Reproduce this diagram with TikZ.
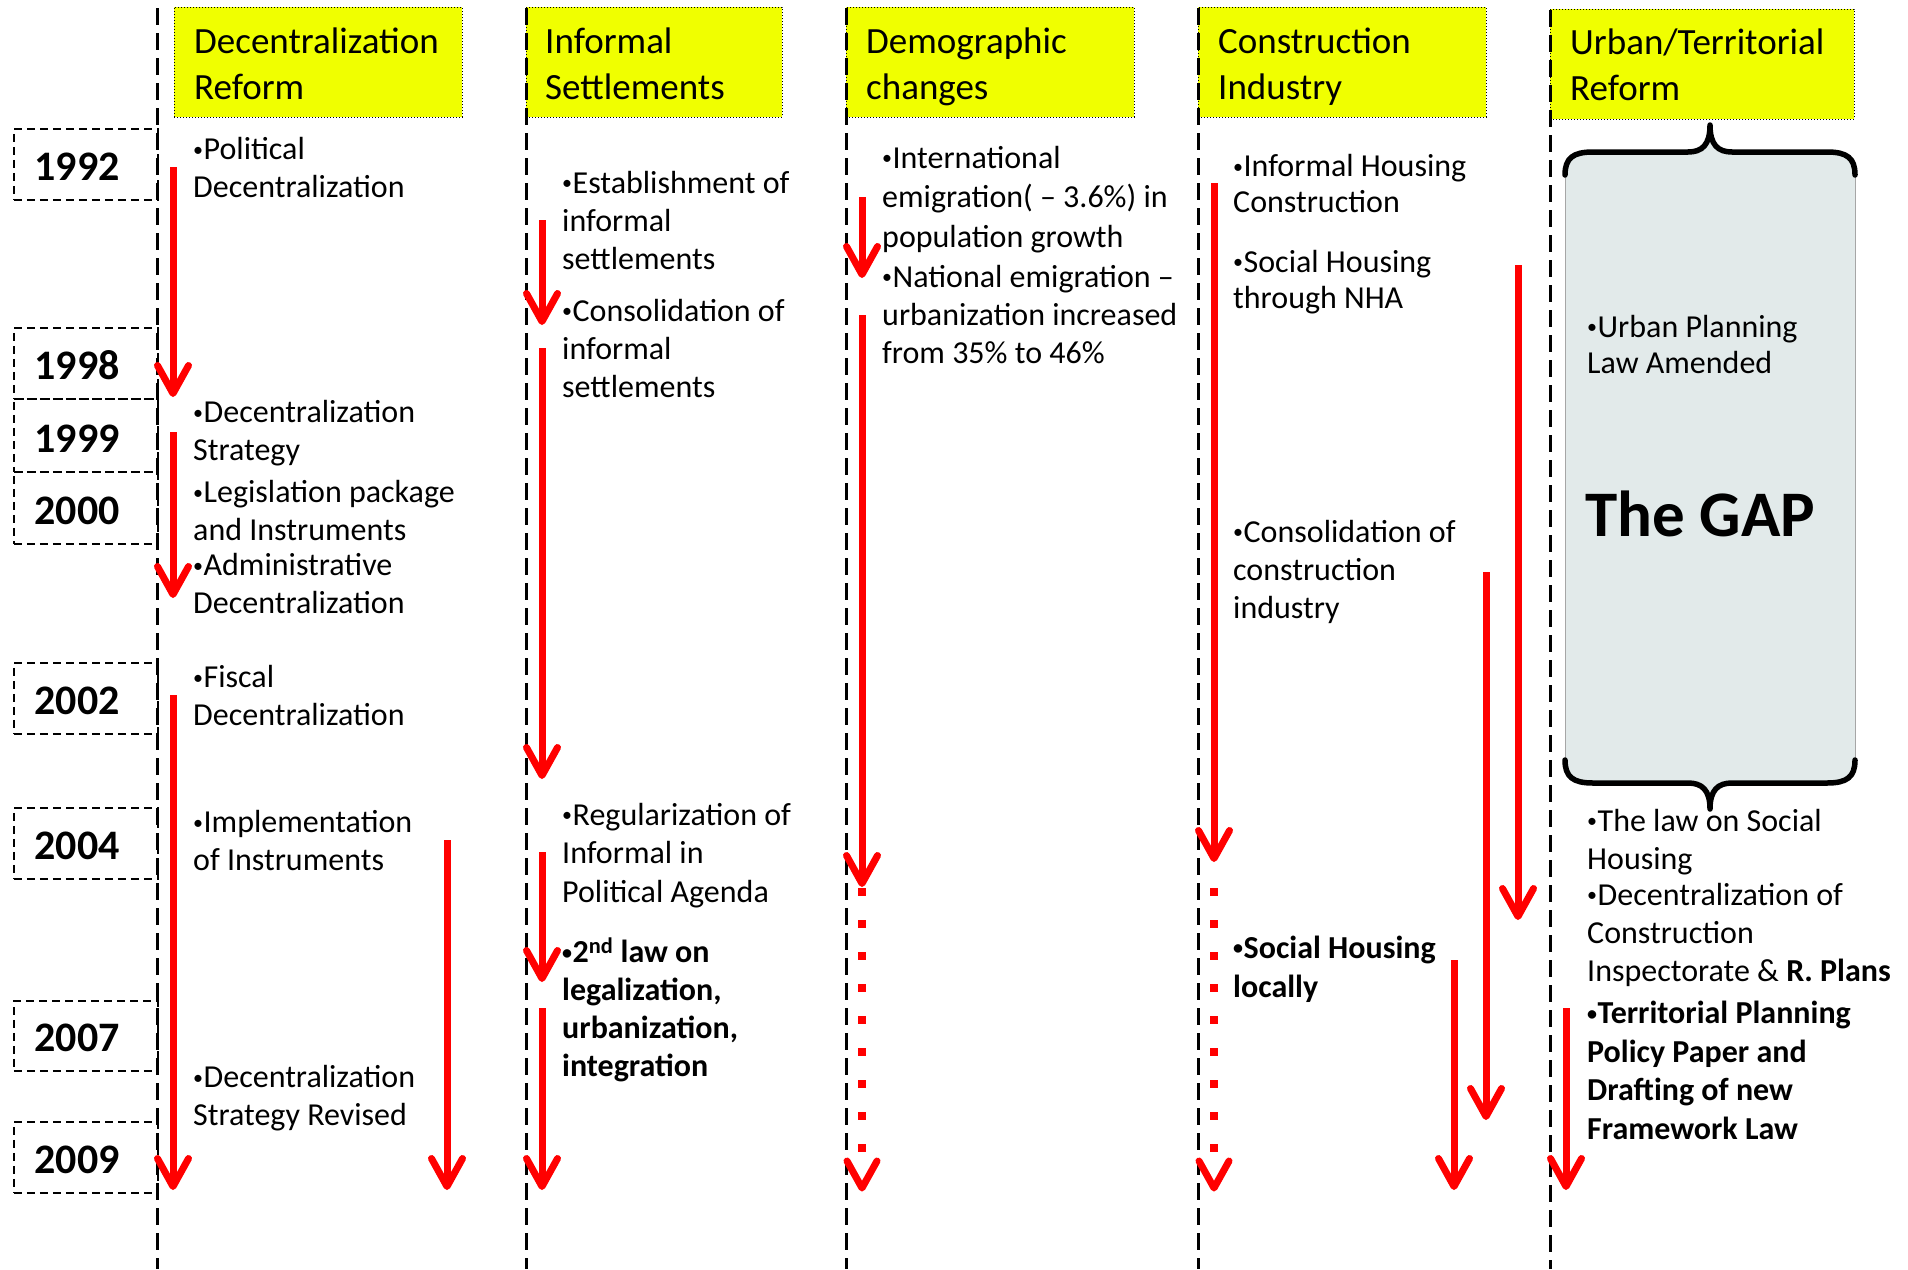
\documentclass[tikz,border=0pt]{standalone}
\usepackage{fontspec}
\setmainfont{Carlito}
\usetikzlibrary{arrows.meta}
\definecolor{hdryellow}{HTML}{F0FF00}
\definecolor{gapgray}{HTML}{E2EAEA}
\definecolor{arrred}{HTML}{FF0000}
\newcommand{\bul}{\raisebox{3.5pt}{\fontsize{20}{20}\selectfont •}\hspace{0.5pt}}
\tikzset{
  colline/.style={line width=3pt, dash pattern=on 17pt off 8pt, black},
  hdrbox/.style={fill=hdryellow, draw=black, line width=0.9pt, dash pattern=on 1pt off 2pt, inner sep=0pt},
  hdrtext/.style={anchor=base west, align=left, inner sep=0pt, font=\fontsize{37}{46}\selectfont},
  bodytext/.style={anchor=base west, align=left, inner sep=0pt, font=\fontsize{32}{37.5}\selectfont},
  yearbox/.style={draw=black, line width=1.6pt, dash pattern=on 8pt off 5pt, minimum width=144pt, minimum height=71pt, inner sep=0pt},
  yeartext/.style={anchor=base, inner sep=0pt, font=\fontsize{42}{42}\selectfont\bfseries},
  redarrow/.style={draw=arrred, line width=7pt, -{Straight Barb[length=28pt,width=31pt,round]}},
  reddots/.style={draw=arrred, line width=8pt, dash pattern=on 8pt off 24pt},
  chevron/.style={draw=arrred, line width=7pt, line cap=round, line join=round},
  brace/.style={draw=black, line width=5.5pt, line cap=round, line join=round},
}
\begin{document}
\begin{tikzpicture}[x=1pt, y=-1pt]
\useasboundingbox (0,0) rectangle (1908,1269);
\fill[white] (0,0) rectangle (1908,1269);

% gap box
\fill[gapgray] (1565,175) .. controls (1565,158) and (1573,152) .. (1593,152) -- (1688,152)
  .. controls (1702,152) and (1710,145) .. (1710,125)
  .. controls (1710,145) and (1718,152) .. (1732,152) -- (1827,152)
  .. controls (1847,152) and (1855,158) .. (1855,175) -- (1855,760)
  .. controls (1855,777) and (1847,783) .. (1827,783) -- (1732,783)
  .. controls (1718,783) and (1710,790) .. (1710,809)
  .. controls (1710,790) and (1702,783) .. (1688,783) -- (1593,783)
  .. controls (1573,783) and (1565,777) .. (1565,760) -- cycle;
\draw[gray!70, line width=1pt] (1565,175) -- (1565,760);
\draw[gray!70, line width=1pt] (1855,175) -- (1855,760);
\draw[brace] (1565,175) .. controls (1565,158) and (1573,152) .. (1593,152) -- (1688,152)
  .. controls (1702,152) and (1710,145) .. (1710,125)
  .. controls (1710,145) and (1718,152) .. (1732,152) -- (1827,152)
  .. controls (1847,152) and (1855,158) .. (1855,175);
\draw[brace] (1565,760) .. controls (1565,777) and (1573,783) .. (1593,783) -- (1688,783)
  .. controls (1702,783) and (1710,790) .. (1710,809)
  .. controls (1710,790) and (1718,783) .. (1732,783) -- (1827,783)
  .. controls (1847,783) and (1855,777) .. (1855,760);

% headers
\node[hdrbox, minimum width=288pt, minimum height=110pt, anchor=north west] (h1) at (174,7) {};
\node[hdrbox, minimum width=256pt, minimum height=110pt, anchor=north west] (h2) at (526,7) {};
\node[hdrbox, minimum width=288pt, minimum height=110pt, anchor=north west] (h3) at (846,7) {};
\node[hdrbox, minimum width=288pt, minimum height=110pt, anchor=north west] (h4) at (1198,7) {};
\node[hdrbox, minimum width=304pt, minimum height=110pt, anchor=north west] (h5) at (1550,9) {};
% (anchor = baseline of the last line)
\node[hdrtext] (h1t) at (194,99) {Decentralization\\Reform};
\node[hdrtext] (h2t) at (545,99) {Informal\\Settlements};
\node[hdrtext] (h3t) at (866,99) {Demographic\\changes};
\node[hdrtext] (h4t) at (1218,99) {Construction\\Industry};
\node[hdrtext] (h5t) at (1570,100) {Urban/Territorial\\Reform};

% column lines
\coordinate (c1t) at (157,8);  \coordinate (c1b) at (157,1269);
\coordinate (c2t) at (526,8);  \coordinate (c2b) at (526,1269);
\coordinate (c3t) at (846,8);  \coordinate (c3b) at (846,1269);
\coordinate (c4t) at (1198,8); \coordinate (c4b) at (1198,1269);
\coordinate (c5t) at (1550,10); \coordinate (c5b) at (1550,1269);
\foreach \c in {c1,c2,c3,c4,c5} \draw[colline] (\c t) -- (\c b);

% years
\foreach \yr/\top/\bot in {1992/128/199, 1998/327/398, 1999/398/471, 2000/471/543, 2002/662/733, 2004/807/878, 2007/1000/1070, 2009/1121/1192}{
  \node[yearbox, anchor=north west, minimum height={\bot-\top}] (y\yr) at (13,\top) {};
  \node[yeartext] (yt\yr) at (77,\bot-19) {\yr};
}

% column 1 texts (anchor = baseline of the last line)
\node[bodytext] (t1a) at (193,197) {\bul Political\\Decentralization};
\node[bodytext] (t1b) at (193,460) {\bul Decentralization\\Strategy};
\node[bodytext] (t1c) at (193,540) {\bul Legislation package\\and Instruments};
\node[bodytext] (t1d) at (193,613) {\bul Administrative\\Decentralization};
\node[bodytext] (t1e) at (193,725) {\bul Fiscal\\Decentralization};
\node[bodytext] (t1f) at (193,870) {\bul Implementation\\of Instruments};
\node[bodytext] (t1g) at (193,1125) {\bul Decentralization\\Strategy Revised};

% column 2 texts
\node[bodytext, font=\fontsize{32}{38}\selectfont] (t2a) at (562,269) {\bul Establishment of\\informal\\settlements};
\node[bodytext, font=\fontsize{32}{38}\selectfont] (t2b) at (562,397) {\bul Consolidation of\\informal\\settlements};
\node[bodytext, font=\fontsize{32}{38.5}\selectfont] (t2c) at (562,902) {\bul Regularization of\\Informal in\\Political Agenda};
\node[bodytext, font=\fontsize{32}{37.7}\selectfont\bfseries] (t2d) at (562,1076) {\bul 2\textsuperscript{nd} law on\\legalization,\\urbanization,\\integration};

% column 3 texts
\node[bodytext, font=\fontsize{32}{39.5}\selectfont] (t3a) at (882,247) {\bul International\\emigration( – 3.6\%) in\\population growth};
\node[bodytext, font=\fontsize{32}{38}\selectfont] (t3b) at (882,363) {\bul National emigration –\\urbanization increased\\from 35\% to 46\%};

% column 4 texts
\node[bodytext, font=\fontsize{32}{35.5}\selectfont] (t4a) at (1233,212) {\bul Informal Housing\\Construction};
\node[bodytext, font=\fontsize{32}{36}\selectfont] (t4b) at (1233,308) {\bul Social Housing\\through NHA};
\node[bodytext, font=\fontsize{32}{38}\selectfont] (t4c) at (1233,618) {\bul Consolidation of\\construction\\industry};
\node[bodytext, font=\fontsize{32}{39}\selectfont\bfseries] (t4d) at (1233,997) {\bul Social Housing\\locally};

% column 5 texts
\node[bodytext, font=\fontsize{32}{36}\selectfont] (t5a) at (1587,373) {\bul Urban Planning\\Law Amended};
\node[anchor=base west, inner sep=0pt, font=\fontsize{65}{65}\selectfont\bfseries] (gap) at (1585,536) {The GAP};
\node[bodytext, font=\fontsize{32}{38}\selectfont] (t5b) at (1587,869) {\bul The law on Social\\Housing};
\node[bodytext, font=\fontsize{32}{38}\selectfont] (t5c) at (1587,981) {\bul Decentralization of\\Construction\\Inspectorate \& \textbf{R. Plans}};
\node[bodytext, font=\fontsize{32}{38.5}\selectfont\bfseries] (t5d) at (1587,1139) {\bul Territorial Planning\\Policy Paper and\\Drafting of new\\Framework Law};

% arrows: column 1
\coordinate (a1s) at (173,167);  \coordinate (a1e) at (173,397);
\coordinate (a2s) at (173,432);  \coordinate (a2e) at (173,598);
\coordinate (a3s) at (173,695);  \coordinate (a3e) at (173,1190);
\coordinate (a4s) at (447,840);  \coordinate (a4e) at (447,1190);
% column 2
\coordinate (b1s) at (542,220);  \coordinate (b1e) at (542,325);
\coordinate (b2s) at (542,348);  \coordinate (b2e) at (542,779);
\coordinate (b3s) at (542,852);  \coordinate (b3e) at (542,982);
\coordinate (b4s) at (542,1008); \coordinate (b4e) at (542,1190);
% column 3
\coordinate (c1s) at (862,197);  \coordinate (c1e) at (862,278);
\coordinate (c2s) at (862,315);  \coordinate (c2e) at (862,887);
% column 4
\coordinate (d1s) at (1214,183); \coordinate (d1e) at (1214,862);
\coordinate (d3s) at (1518,265); \coordinate (d3e) at (1518,920);
\coordinate (d4s) at (1486,572); \coordinate (d4e) at (1486,1120);
\coordinate (d5s) at (1454,960); \coordinate (d5e) at (1454,1190);
% column 5
\coordinate (e1s) at (1566,1008); \coordinate (e1e) at (1566,1190);

\foreach \a in {a1,a2,a3,a4,b1,b2,b3,b4,c1,c2,d1,d3,d4,d5,e1}
  \draw[redarrow] (\a s) -- (\a e);

% dotted continuations
\coordinate (c3s) at (862,888); \coordinate (c3e) at (862,1156); \coordinate (c3t) at (862,1188);
\coordinate (d2s) at (1214,888); \coordinate (d2e) at (1214,1156); \coordinate (d2t) at (1214,1188);
\foreach \a in {c3,d2}{
  \draw[reddots] (\a s) -- (\a e);
  \draw[chevron] ([xshift=-15pt,yshift=27pt]\a t) -- (\a t) -- ([xshift=15pt,yshift=27pt]\a t);
}
\end{tikzpicture}
\end{document}
